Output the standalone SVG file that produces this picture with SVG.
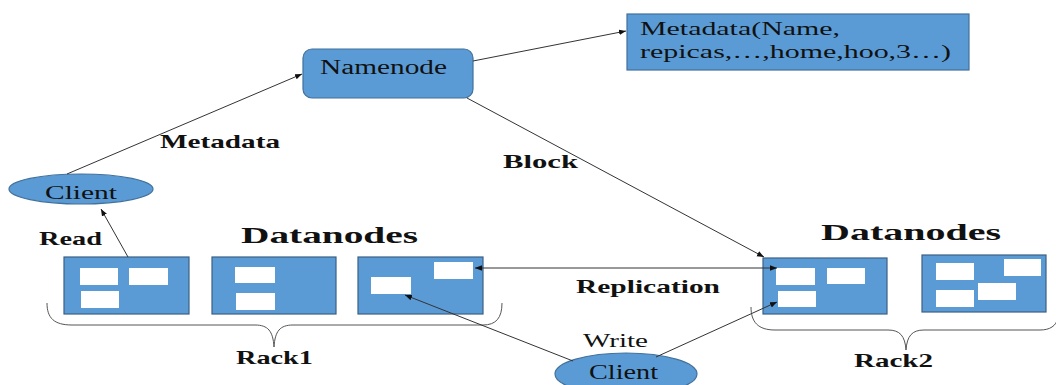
<svg xmlns="http://www.w3.org/2000/svg" width="1056" height="385" viewBox="0 0 1056 385">
<style>
.node{fill:#5B9BD5;stroke:#41719C;stroke-width:1.2}
.dn{fill:#5B9BD5;stroke:#3a5f85;stroke-width:1.2}
.blk{fill:#ffffff;stroke:none}
.t{font-family:"Liberation Serif","Times New Roman",serif;fill:#111}
.b{font-weight:bold}
.edge{stroke:#333;stroke-width:1;fill:none}
.brace{stroke:#555;stroke-width:1;fill:none}
</style>
<defs>
<marker id="ah" viewBox="0 0 10 10" refX="10" refY="5" markerWidth="7" markerHeight="7" orient="auto-start-reverse" markerUnits="userSpaceOnUse">
<path d="M0,1 L10,5 L0,9 z" fill="#111"/>
</marker>
</defs>
<rect width="1056" height="385" fill="#ffffff"/>

<g id="namenode">
<rect class="node" x="303" y="49" width="170" height="49" rx="9"/>
<text class="t" x="320" y="74" font-size="20" textLength="127" lengthAdjust="spacingAndGlyphs">Namenode</text>
</g>

<g id="metadata-box">
<rect class="node" x="627" y="14" width="342" height="56"/>
<text class="t" x="640" y="35" font-size="19" textLength="200" lengthAdjust="spacingAndGlyphs">Metadata(Name,</text>
<text class="t" x="640" y="58" font-size="19" textLength="311" lengthAdjust="spacingAndGlyphs">repicas,…,home,hoo,3…)</text>
</g>

<g id="client-read">
<ellipse class="node" cx="81" cy="189" rx="72" ry="15"/>
<text class="t" x="45" y="199" font-size="18" textLength="72" lengthAdjust="spacingAndGlyphs">Client</text>
</g>

<g id="client-write">
<ellipse class="node" cx="626" cy="374" rx="71" ry="21"/>
<text class="t" x="589" y="379" font-size="20" textLength="69" lengthAdjust="spacingAndGlyphs">Client</text>
</g>

<g id="rack1">
<text class="t b" x="241" y="243" font-size="24" textLength="177" lengthAdjust="spacingAndGlyphs">Datanodes</text>
<g id="dn1-1">
<rect class="dn" x="64" y="257" width="125" height="57"/>
<rect class="blk" x="80" y="268" width="38" height="17"/>
<rect class="blk" x="129" y="268" width="39" height="17"/>
<rect class="blk" x="81" y="291" width="38" height="17"/>
</g>
<g id="dn1-2">
<rect class="dn" x="212" y="257" width="124" height="57"/>
<rect class="blk" x="235" y="267" width="40" height="16"/>
<rect class="blk" x="236" y="293" width="39" height="17"/>
</g>
<g id="dn1-3">
<rect class="dn" x="358" y="257" width="125" height="57"/>
<rect class="blk" x="434" y="262" width="39" height="17"/>
<rect class="blk" x="371" y="277" width="40" height="17"/>
</g>
<path class="brace" d="M47,303 C47,318 54,325 72,325 L255,325 C268,325 273,331 274,347 C275,331 280,325 293,325 L483,325 C496,325 502,318 502,303"/>
<text class="t b" x="236" y="364" font-size="19" textLength="77" lengthAdjust="spacingAndGlyphs">Rack1</text>
</g>

<g id="rack2">
<text class="t b" x="821" y="240" font-size="24" textLength="180" lengthAdjust="spacingAndGlyphs">Datanodes</text>
<g id="dn2-1">
<rect class="dn" x="763" y="258" width="124" height="56"/>
<rect class="blk" x="776" y="268" width="39" height="17"/>
<rect class="blk" x="827" y="268" width="38" height="16"/>
<rect class="blk" x="778" y="291" width="38" height="16"/>
</g>
<g id="dn2-2">
<rect class="dn" x="922" y="255" width="124" height="57"/>
<rect class="blk" x="936" y="263" width="38" height="17"/>
<rect class="blk" x="1004" y="259" width="37" height="17"/>
<rect class="blk" x="936" y="290" width="38" height="17"/>
<rect class="blk" x="978" y="283" width="38" height="17"/>
</g>
<path class="brace" d="M751,307 C751,322 758,330 775,330 L888,330 C900,330 905,336 906,350 C907,336 912,330 924,330 L1040,330 C1050,330 1056,326 1058,318"/>
<text class="t b" x="854" y="367" font-size="19" textLength="79" lengthAdjust="spacingAndGlyphs">Rack2</text>
</g>

<g id="connectors">
<line class="edge" x1="67" y1="174" x2="302" y2="74" marker-end="url(#ah)"/>
<line class="edge" x1="473" y1="61" x2="626" y2="31" marker-end="url(#ah)"/>
<line class="edge" x1="467" y1="98" x2="764" y2="257" marker-end="url(#ah)"/>
<line class="edge" x1="128" y1="257" x2="101" y2="209" marker-end="url(#ah)"/>
<line class="edge" x1="475" y1="268" x2="777" y2="268" marker-start="url(#ah)" marker-end="url(#ah)"/>
<line class="edge" x1="573" y1="361" x2="405" y2="295" marker-end="url(#ah)"/>
<line class="edge" x1="656" y1="357" x2="777" y2="302" marker-end="url(#ah)"/>
<text class="t b" x="160" y="148" font-size="19" textLength="120" lengthAdjust="spacingAndGlyphs">Metadata</text>
<text class="t b" x="503" y="168" font-size="19" textLength="75" lengthAdjust="spacingAndGlyphs">Block</text>
<text class="t b" x="39" y="245" font-size="19" textLength="63" lengthAdjust="spacingAndGlyphs">Read</text>
<text class="t b" x="576" y="293" font-size="19" textLength="144" lengthAdjust="spacingAndGlyphs">Replication</text>
<text class="t" x="583" y="347" font-size="19" textLength="65" lengthAdjust="spacingAndGlyphs">Write</text>
</g>
</svg>
